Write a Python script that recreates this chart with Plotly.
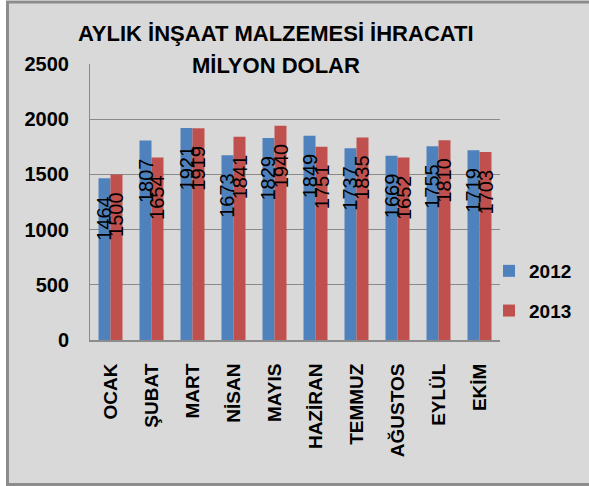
import plotly.graph_objects as go

months = ["OCAK", "ŞUBAT", "MART", "NİSAN", "MAYIS", "HAZİRAN", "TEMMUZ", "AĞUSTOS", "EYLÜL", "EKİM"]
v2012 = [1464, 1807, 1921, 1673, 1829, 1849, 1737, 1669, 1755, 1719]
v2013 = [1500, 1654, 1919, 1841, 1940, 1751, 1835, 1652, 1810, 1703]
title_lines = ["AYLIK İNŞAAT MALZEMESİ İHRACATI", "MİLYON DOLAR"]
yticks = [0, 500, 1000, 1500, 2000, 2500]

W, H = 589, 486
L, R, T, B = 90, 89, 64, 146
pw, ph = W - L - R, H - T - B

def px_x(p):
    return (p - L) / pw

def px_y(p):
    return (H - B - p) / ph

BLUE = "#4f81bd"
RED = "#c0504d"
BG = "#d9d9d9"
GRID = "#8a8a8a"
FONT = "Liberation Sans"

fig = go.Figure()
fig.add_trace(go.Bar(x=months, y=v2012, name="2012", marker_color=BLUE,
                     marker_line_width=0, legendgroup="a"))
fig.add_trace(go.Bar(x=months, y=v2013, name="2013", marker_color=RED,
                     marker_line_width=0, legendgroup="b"))

annotations = []
for vals, shift in ((v2012, -6), (v2013, 6)):
    for m, v in zip(months, vals):
        annotations.append(dict(
            x=m, y=v, xref="x", yref="y", text=str(v), showarrow=False,
            textangle=-90, xanchor="center", yanchor="middle",
            xshift=shift, yshift=-40,
            font=dict(family=FONT, size=20, color="black")))

for line, py in zip(title_lines, (34, 65)):
    annotations.append(dict(
        x=px_x(276), y=px_y(py), xref="paper", yref="paper", text=line,
        showarrow=False, xanchor="center", yanchor="middle", bgcolor=BG if py == 65 else None,
        font=dict(family=FONT, size=22, color="black", weight="bold")))

fig.update_layout(
    width=W, height=H,
    margin=dict(l=L, r=R, t=T, b=B, autoexpand=False),
    paper_bgcolor="white", plot_bgcolor=BG,
    barmode="group", bargap=0.415, bargroupgap=0,
    annotations=annotations,
    showlegend=True,
    legend=dict(x=px_x(489), y=px_y(252), xanchor="left", yanchor="top",
                traceorder="grouped", tracegroupgap=12, bgcolor="rgba(0,0,0,0)",
                font=dict(family=FONT, size=19, color="black", weight="bold")),
    shapes=[dict(type="rect", xref="paper", yref="paper", layer="below",
                 x0=px_x(7.5), x1=px_x(600), y0=px_y(484.5), y1=px_y(2),
                 line=dict(color="#8c8c8c", width=3), fillcolor=BG)],
    xaxis=dict(showgrid=False, showline=True, linecolor="#8c8c8c", linewidth=2,
               tickangle=-90, ticks="", ticklabelstandoff=14,
               tickfont=dict(family=FONT, size=19, color="black", weight="bold")),
    yaxis=dict(range=[0, 2500], tickvals=yticks, showgrid=True, gridcolor=GRID,
               gridwidth=1, showline=True, linecolor=GRID, linewidth=1,
               zeroline=False, ticks="", ticklabelstandoff=16,
               tickfont=dict(family=FONT, size=20, color="black", weight="bold")),
)

fig.write_html("out.html", config={"displayModeBar": False},
               post_script="document.body.style.margin='0px';")
